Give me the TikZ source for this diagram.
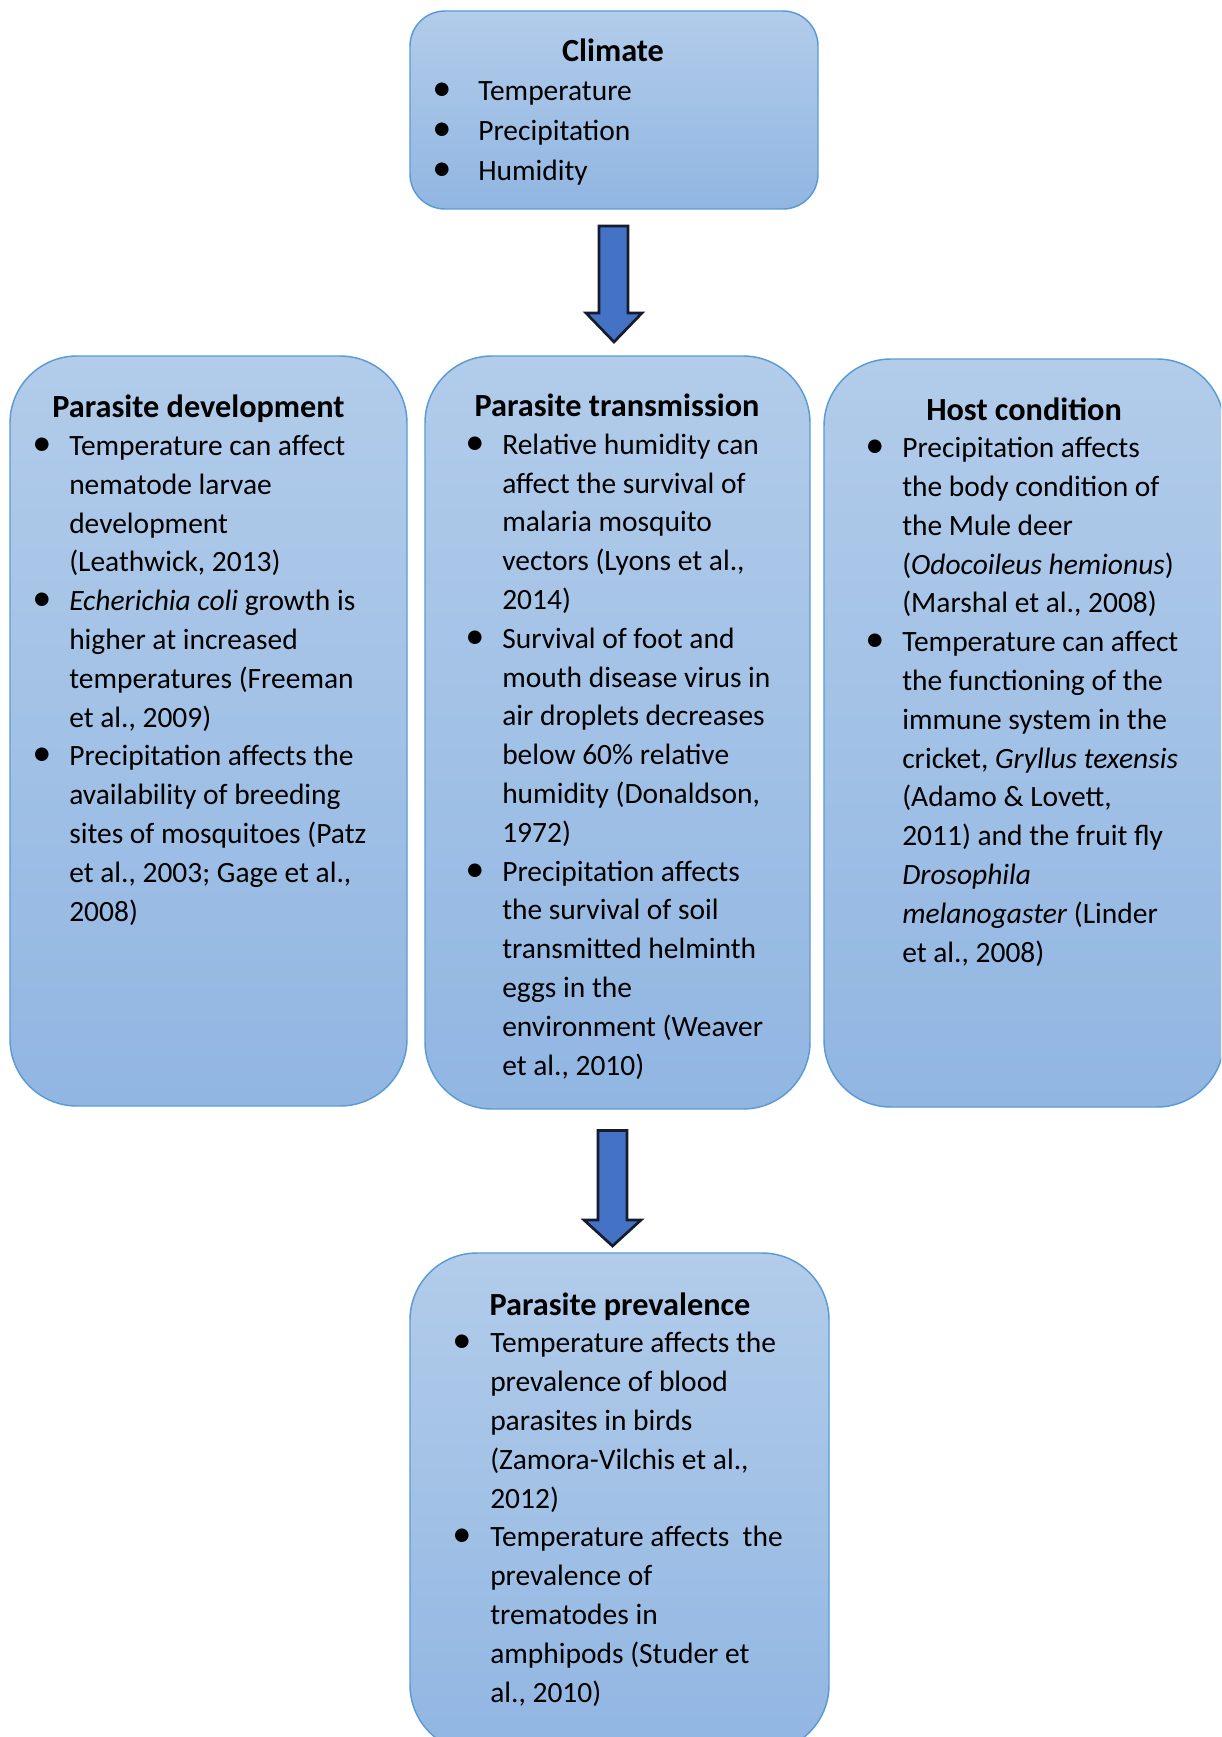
\documentclass[tikz,border=0pt]{standalone}
\usepackage{fontspec}
\setmainfont{Carlito}
\newlength\pxu \setlength\pxu{0.75pt}
\definecolor{boxtop}{RGB}{178,204,234}
\definecolor{boxbot}{RGB}{145,182,226}
\definecolor{boxline}{RGB}{91,155,213}
\definecolor{arrowfill}{RGB}{68,114,196}
\definecolor{arrowline}{RGB}{22,28,45}
\newcommand\basefont{\fontsize{22.1pt}{29.1pt}\selectfont}
\newcommand\titlefont{\fontsize{24.2pt}{29.1pt}\selectfont\bfseries}
\newcommand\bul[1]{\llap{\makebox[#1\pxu][l]{\scalebox{1.3}{\textbullet}}}}
\tikzset{
  box/.style={rectangle, draw=boxline, line width=1.1pt, top color=boxtop, bottom color=boxbot, inner sep=0pt},
  ttl/.style={font=\titlefont, anchor=base, inner sep=0pt},
  txt/.style={font=\basefont, align=left, anchor=base west, inner sep=0pt},
  blockarrow/.style={fill=arrowfill, draw=arrowline, line width=2pt, line join=miter}
}
\begin{document}
\begin{tikzpicture}[x=0.75pt, y=-0.75pt]
\useasboundingbox (0,0) rectangle (1221,1737);
\clip (0,0) rectangle (1221,1737);
\fill[white] (0,0) rectangle (1221,1737);

% boxes
\node[box, minimum width=408\pxu, minimum height=198\pxu, rounded corners=35\pxu] (climate) at (614,110) {};
\node[box, minimum width=397\pxu, minimum height=750\pxu, rounded corners=67\pxu] (dev) at (208.5,731) {};
\node[box, minimum width=385\pxu, minimum height=753\pxu, rounded corners=67\pxu] (trans) at (617.5,732.5) {};
\node[box, minimum width=400\pxu, minimum height=748\pxu, rounded corners=67\pxu] (host) at (1024,733) {};
\node[box, minimum width=419\pxu, minimum height=499\pxu, rounded corners=67\pxu] (prev) at (619.5,1502.5) {};

% block arrows
\coordinate (a1top) at (613.5,226);
\coordinate (a1tip) at (614,342);
\draw[blockarrow] (a1top) ++(-14.5,0) -- ++(29,0) -- (628,313) -- (642,313) -- (a1tip) -- (586,313) -- (599,313) -- cycle;
\coordinate (a2top) at (612.5,1130.5);
\coordinate (a2tip) at (612.5,1246);
\draw[blockarrow] (a2top) ++(-14.5,0) -- ++(29,0) -- (627,1220) -- (641,1220) -- (a2tip) -- (584,1220) -- (598,1220) -- cycle;

% Climate (anchor = baseline of last line)
\node[ttl] (climateT) at (613,62) {Climate};
\node[txt, font=\fontsize{22.1pt}{30pt}\selectfont] (climateL) at (478,181) {%
\bul{46}Temperature\\
\bul{46}Precipitation\\
\bul{46}Humidity};

% Parasite development
\node[ttl] (devT) at (198.5,417) {Parasite development};
\node[txt] (devL) at (69,921) {%
\bul{37}Temperature can affect\\
nematode larvae\\
development\\
(Leathwick, 2013)\\
\bul{37}\emph{Echerichia coli} growth is\\
higher at increased\\
temperatures (Freeman\\
et al., 2009)\\
\bul{37}Precipitation affects the\\
availability of breeding\\
sites of mosquitoes (Patz\\
et al., 2003; Gage et al.,\\
2008)};

% Parasite transmission
\node[ttl] (transT) at (617,416) {Parasite transmission};
\node[txt] (transL) at (502,1075) {%
\bul{37}Relative humidity can\\
affect the survival of\\
malaria mosquito\\
vectors (Lyons et al.,\\
2014)\\
\bul{37}Survival of foot and\\
mouth disease virus in\\
air droplets decreases\\
below 60\% relative\\
humidity (Donaldson,\\
1972)\\
\bul{37}Precipitation affects\\
the survival of soil\\
transmitted helminth\\
eggs in the\\
environment (Weaver\\
et al., 2010)};

% Host condition
\node[ttl] (hostT) at (1024,420) {Host condition};
\node[txt] (hostL) at (902,962) {%
\bul{37}Precipitation affects\\
the body condition of\\
the Mule deer\\
(\emph{Odocoileus hemionus})\\
(Marshal et al., 2008)\\
\bul{37}Temperature can affect\\
the functioning of the\\
immune system in the\\
cricket, \emph{Gryllus texensis}\\
(Adamo \& Lovett,\\
2011) and the fruit fly\\
\emph{Drosophila}\\
\emph{melanogaster} (Linder\\
et al., 2008)};

% Parasite prevalence
\node[ttl] (prevT) at (620,1315) {Parasite prevalence};
\node[txt] (prevL) at (490,1702) {%
\bul{38}Temperature affects the\\
prevalence of blood\\
parasites in birds\\
(Zamora-Vilchis et al.,\\
2012)\\
\bul{38}Temperature affects\ \ the\\
prevalence of\\
trematodes in\\
amphipods (Studer et\\
al., 2010)};
\end{tikzpicture}
\end{document}
